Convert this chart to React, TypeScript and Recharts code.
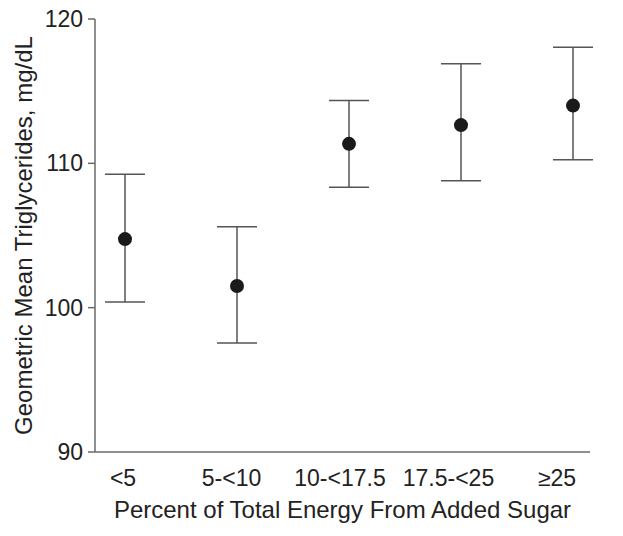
import React from 'react';
import { ComposedChart, Scatter, XAxis, YAxis, ErrorBar } from 'recharts';

const categories = ['<5', '5-<10', '10-<17.5', '17.5-<25', '≥25'];
const means = [104.75, 101.5, 111.35, 112.65, 114.0];
const lower = [100.4, 97.55, 108.35, 108.8, 110.25];
const upper = [109.25, 105.6, 114.35, 116.9, 118.05];
const yTicks = [90, 100, 110, 120];

const data = categories.map((cat, i) => ({
  cat,
  mean: means[i],
  err: [means[i] - lower[i], upper[i] - means[i]],
}));

const FONT = '"Liberation Sans", Arial, Helvetica, sans-serif';
const AXIS = '#6a6a6a';
const TEXT = '#222';

const Dot = (props: any) => {
  const { cx, cy } = props;
  if (cx == null || cy == null) return null;
  return <circle cx={cx} cy={cy} r={7} fill="#1a1a1a" />;
};

const XTick = (props: any) => {
  const { x, y, payload, index } = props;
  return (
    <text
      x={x - 2 - 3.5 * (index ?? 0)}
      y={y}
      dy="0.71em"
      textAnchor="middle"
      fill={TEXT}
      fontSize={23}
      fontFamily={FONT}
    >
      {payload.value}
    </text>
  );
};

export default function App() {
  return (
    <div style={{ position: 'absolute', left: 0, top: 0, background: '#fff' }}>
      <ComposedChart
        width={623}
        height={536}
        data={data}
        margin={{ top: 19, right: 33, bottom: 0, left: 0 }}
      >
        <XAxis
          dataKey="cat"
          type="category"
          scale="point"
          padding={{ left: 30, right: 17 }}
          height={84}
          axisLine={{ stroke: AXIS, strokeWidth: 1.5 }}
          tickLine={false}
          tickSize={6}
          tickMargin={12}
          tick={<XTick />}
          label={{
            value: 'Percent of Total Energy From Added Sugar',
            position: 'insideBottom',
            offset: 18,
            fill: TEXT,
            fontSize: 24,
            fontFamily: FONT,
          }}
        />
        <YAxis
          type="number"
          domain={[90, 120]}
          ticks={yTicks}
          width={95}
          axisLine={{ stroke: AXIS, strokeWidth: 1.5 }}
          tickLine={{ stroke: AXIS, strokeWidth: 1.5 }}
          tickSize={7}
          tickMargin={5}
          tick={{ fill: TEXT, fontSize: 23, fontFamily: FONT }}
          label={{
            value: 'Geometric Mean Triglycerides, mg/dL',
            angle: -90,
            position: 'center',
            dx: -24,
            fill: TEXT,
            fontSize: 24,
            fontFamily: FONT,
          }}
        />
        <Scatter dataKey="mean" shape={Dot} isAnimationActive={false}>
          <ErrorBar
            dataKey="err"
            direction="y"
            width={20}
            stroke="#555"
            strokeWidth={1.5}
            isAnimationActive={false}
          />
        </Scatter>
      </ComposedChart>
    </div>
  );
}
